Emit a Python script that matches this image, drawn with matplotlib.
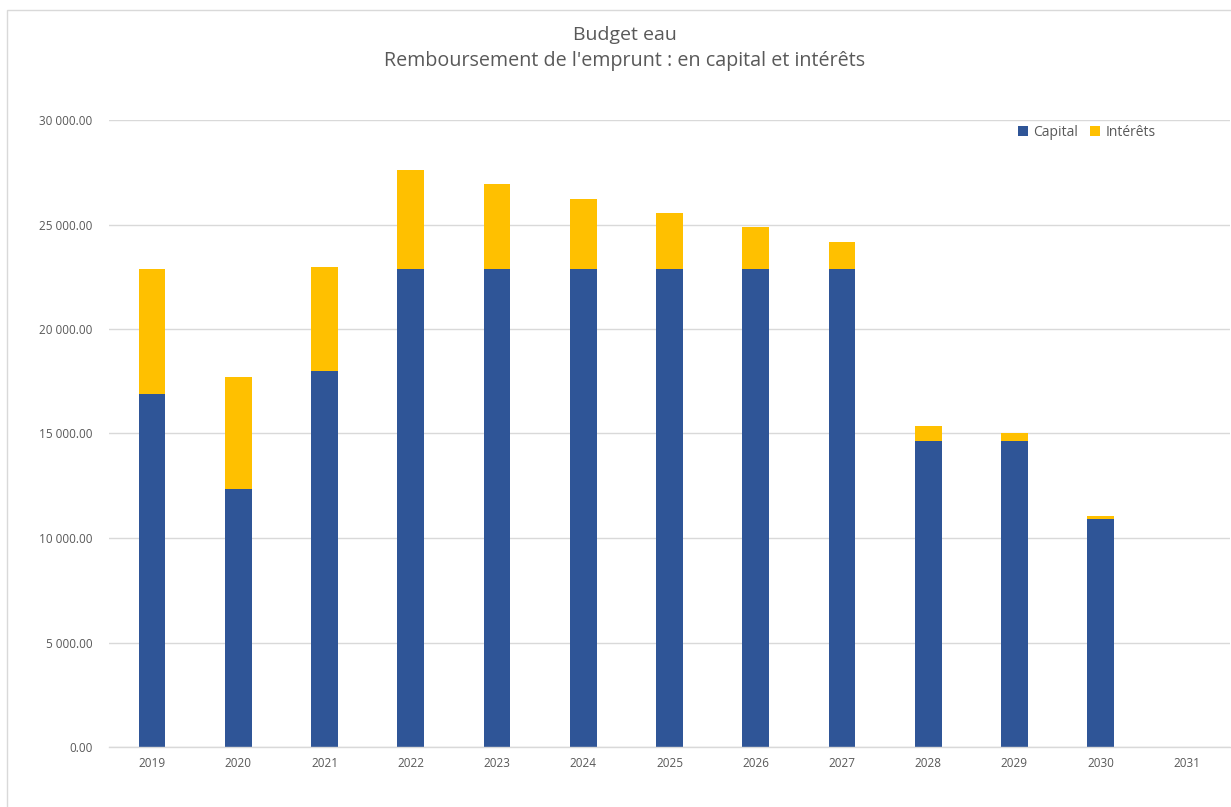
import matplotlib
matplotlib.use("Agg")
from matplotlib import pyplot as plt
from matplotlib.patches import Rectangle
from matplotlib.ticker import FuncFormatter

years = ["2019", "2020", "2021", "2022", "2023", "2024", "2025", "2026", "2027", "2028", "2029", "2030", "2031"]
capital = [16890, 12340, 17990, 22870, 22870, 22870, 22870, 22870, 22870, 14640, 14640, 10910, 0]
interets = [5980, 5360, 4980, 4740, 4070, 3350, 2680, 2010, 1290, 720, 380, 140, 0]

plt.rcParams['font.family'] = ['Open Sans', 'DejaVu Sans']
grey = "#595959"

fig = plt.figure(figsize=(12.31, 8.07), dpi=100)
ax = fig.add_axes([109/1231, 60/807, 1121/1231, 627/807])

x = list(range(len(years)))
ax.bar(x, capital, width=0.31, color="#2F5597", label="Capital", zorder=3)
ax.bar(x, interets, width=0.31, bottom=capital, color="#FFC000", label="Intérêts", zorder=3)

ax.set_xlim(-0.5, len(years) - 0.5)
ax.set_ylim(0, 30000)
ax.set_yticks(range(0, 30001, 5000))
ax.yaxis.set_major_formatter(FuncFormatter(lambda v, p: "{:,.2f}".format(v).replace(",", " ")))
ax.set_xticks(x)
ax.set_xticklabels(years)
ax.tick_params(axis='both', length=0, labelsize=8.5, colors=grey)
ax.tick_params(axis='y', pad=12)
ax.tick_params(axis='x', pad=7)
ax.grid(axis='y', color="#D9D9D9", linewidth=1, zorder=0)
for s in ["top", "right", "left"]:
    ax.spines[s].set_visible(False)
ax.spines["bottom"].set_color("#D9D9D9")
ax.spines["bottom"].set_linewidth(1)
ax.spines["bottom"].set_zorder(4)

leg = ax.legend(loc="upper right", bbox_to_anchor=(0.945, 1.012), ncol=2, frameon=False,
                fontsize=10, handlelength=0.7, handleheight=0.7, handletextpad=0.4, columnspacing=0.9)
for t in leg.get_texts():
    t.set_color(grey)

fig.text(625/1231, 1 - 35/807, "Budget eau", ha="center", va="center", fontsize=14, color=grey)
fig.text(625/1231, 1 - 61/807, "Remboursement de l'emprunt : en capital et intérêts", ha="center", va="center",
         fontsize=14.2, color=grey)

fig.patches.append(Rectangle((7/1231, -0.1), 1.2, 1 - 10/807 + 0.1, transform=fig.transFigure,
                             fill=False, edgecolor="#D9D9D9", linewidth=1))

fig.savefig("out.png", dpi=100)
